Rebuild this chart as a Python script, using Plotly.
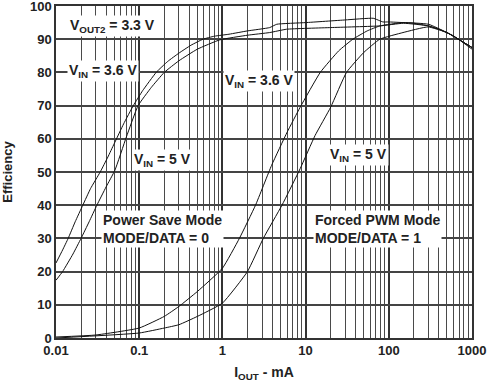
import math
import plotly.graph_objects as go

# Power Save Mode curves
ps36_x = [0.01, 0.012, 0.014, 0.017, 0.021, 0.026, 0.034, 0.042, 0.05, 0.065, 0.085, 0.11, 0.16, 0.22, 0.3, 0.42, 0.585, 0.8, 1.2, 2.0, 3.7, 4.5, 10, 30, 65, 85, 100, 200, 300, 400, 600, 1000]
ps36_y = [22.6, 26.5, 30, 35, 40, 45, 50, 54.5, 58.5, 64.5, 70, 74.5, 80, 83.3, 85.8, 88.2, 90, 90.9, 91.5, 92.5, 93.5, 94.5, 95, 95.8, 96.3, 95.2, 95.2, 94.8, 94, 93, 91, 87]
ps5_x = [0.01, 0.012, 0.016, 0.02, 0.025, 0.031, 0.04, 0.051, 0.07, 0.097, 0.14, 0.2, 0.3, 0.5, 0.93, 2.0, 3.7, 5.9, 20, 78, 150, 300, 500, 1000]
ps5_y = [17.4, 20, 25.3, 30, 35, 40, 45.5, 50.5, 60.5, 70, 75.5, 80, 83.5, 87, 89.8, 91.2, 92, 93, 93.5, 94, 94.8, 94, 92, 87.5]

# Forced PWM Mode curves
pwm36_x = [0.01, 0.03, 0.1, 0.2, 0.3, 0.5, 1.0, 1.6, 2.5, 3.9, 6.0, 8.6, 15, 25, 37, 55, 78, 150, 300, 500, 1000]
pwm36_y = [0.3, 0.9, 3.0, 6.5, 9.5, 14, 21, 30, 40, 52, 62, 69.5, 80, 86.5, 90, 92.5, 94, 95, 94.5, 92, 87.5]
pwm5_x = [0.01, 0.1, 0.2, 0.3, 0.5, 1.0, 2.0, 3.1, 5.2, 8.6, 13, 20, 31, 50, 78, 148, 296, 500, 1000]
pwm5_y = [0.0, 1.5, 3.0, 4.0, 6.5, 10.5, 20, 30, 40, 51, 61, 69.5, 80, 86, 90, 92, 93.7, 92, 87.5]

x_ticks = [0.01, 0.1, 1, 10, 100, 1000]
x_ticktext = ["0.01", "0.1", "1", "10", "100", "1000"]
y_ticks = [0, 10, 20, 30, 40, 50, 60, 70, 80, 90, 100]
minor_vals = [m * 10 ** e for e in range(-2, 3) for m in range(2, 10)]

FONT = "Liberation Sans, Arial, sans-serif"

fig = go.Figure()
for xs, ys in [(ps36_x, ps36_y), (ps5_x, ps5_y), (pwm36_x, pwm36_y), (pwm5_x, pwm5_y)]:
    fig.add_trace(go.Scatter(x=xs, y=ys, mode="lines", line=dict(color="#111", width=1, shape="spline", smoothing=0.4),
                             showlegend=False, hoverinfo="skip"))

ann = [
    ("V<sub>OUT2</sub> = 3.3 V", 0.048, 94, "center"),
    ("V<sub>IN</sub> = 3.6 V", 0.0367, 80.5, "center"),
    ("V<sub>IN</sub> = 5 V", 0.193, 53.5, "center"),
    ("V<sub>IN</sub> = 3.6 V", 2.75, 77.5, "center"),
    ("V<sub>IN</sub> = 5 V", 42.7, 55, "center"),
    ("Power Save Mode<br>MODE/DATA = 0", 0.193, 32.7, "left"),
    ("Forced PWM Mode<br>MODE/DATA = 1", 74, 32.7, "left"),
]
for t, x, y, al in ann:
    fig.add_annotation(x=math.log10(x), y=y, xref="x", yref="y", text=t, showarrow=False, align=al,
                       bgcolor="white", borderpad=1,
                       font=dict(family=FONT, size=14, color="#222", weight="bold"))

fig.update_layout(
    width=489, height=390,
    margin=dict(l=56, r=17, t=6, b=52, autoexpand=False),
    plot_bgcolor="white", paper_bgcolor="white",
    font=dict(family=FONT, color="#222"),
    xaxis=dict(type="log", range=[-2, 3], tickvals=x_ticks, ticktext=x_ticktext, automargin=False,
               ticklabeloverflow="allow",
               showgrid=True, gridcolor="#333", gridwidth=1.5,
               minor=dict(tickvals=minor_vals, showgrid=True, gridcolor="#4a4a4a", gridwidth=1.3, ticks=""),
               showline=True, linecolor="#333", linewidth=1.5, mirror=True, ticks="",
               tickfont=dict(family=FONT, size=13, weight="bold", color="#222"),
               title=dict(text="I<sub>OUT</sub> - mA", font=dict(family=FONT, size=14, weight="bold", color="#222"), standoff=10),
               zeroline=False),
    yaxis=dict(range=[0, 100], tickvals=y_ticks, showgrid=True, gridcolor="#444", gridwidth=1.5, automargin=False,
               ticklabeloverflow="allow",
               showline=True, linecolor="#333", linewidth=1.5, mirror=True, ticks="",
               tickfont=dict(family=FONT, size=13, weight="bold", color="#222"),
               title=dict(text="Efficiency", font=dict(family=FONT, size=13, weight="bold", color="#222"), standoff=20),
               zeroline=False),
)

fig.write_html("out.html", config={"displayModeBar": False},
               post_script="document.body.style.margin='0';")
